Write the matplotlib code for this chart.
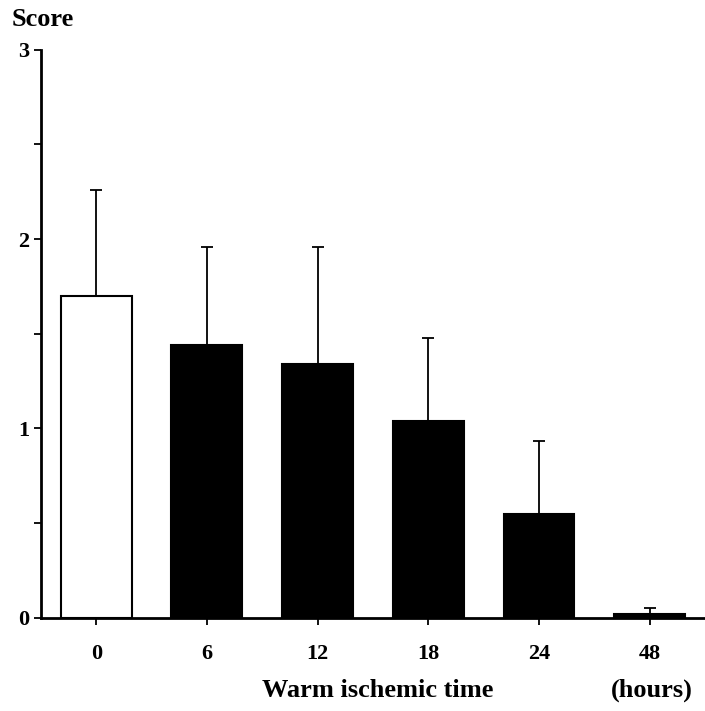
import matplotlib
matplotlib.use('Agg')
import matplotlib.pyplot as plt
import numpy as np

hours = ['0', '6', '12', '18', '24', '48']
scores = [1.70, 1.44, 1.34, 1.04, 0.55, 0.02]
sd = [0.56, 0.52, 0.62, 0.44, 0.385, 0.03]
colors = ['white', 'black', 'black', 'black', 'black', 'black']

plt.rcParams['font.family'] = ['Liberation Serif', 'DejaVu Serif']
plt.rcParams['font.weight'] = 'bold'

fig = plt.figure(figsize=(7.05, 7.11), dpi=100)
ax = fig.add_axes([0.058, 0.131, 0.942, 0.799])

x = np.arange(len(hours))
ax.bar(x, scores, width=0.64, color=colors, edgecolor='black', linewidth=1.5,
       yerr=[np.zeros(len(sd)), sd], error_kw=dict(ecolor='black', elinewidth=1.3, capsize=4, capthick=1.3))

ax.set_xlim(-0.5, 5.5)
ax.set_ylim(0, 3)
ax.set_yticks([0, 1, 2, 3])
ax.set_yticks(np.arange(0, 3.01, 0.5), minor=True)
ax.set_xticks(x)
ax.set_xticklabels(hours)
ax.tick_params(axis='both', direction='out', length=5, width=1.3, labelsize=16)
ax.tick_params(axis='x', pad=14)
ax.tick_params(axis='y', which='minor', length=5, width=1.3)
for s in ['top', 'right']:
    ax.spines[s].set_visible(False)
for s in ['left', 'bottom']:
    ax.spines[s].set_linewidth(2)

fig.text(0.016, 0.973, 'Score', fontsize=19, fontweight='bold', va='center')
fig.text(0.536, 0.02, 'Warm ischemic time', fontsize=19, fontweight='bold', ha='center', va='baseline')
fig.text(0.925, 0.02, '(hours)', fontsize=19, fontweight='bold', ha='center', va='baseline')

fig.savefig('out.png', dpi=100)
